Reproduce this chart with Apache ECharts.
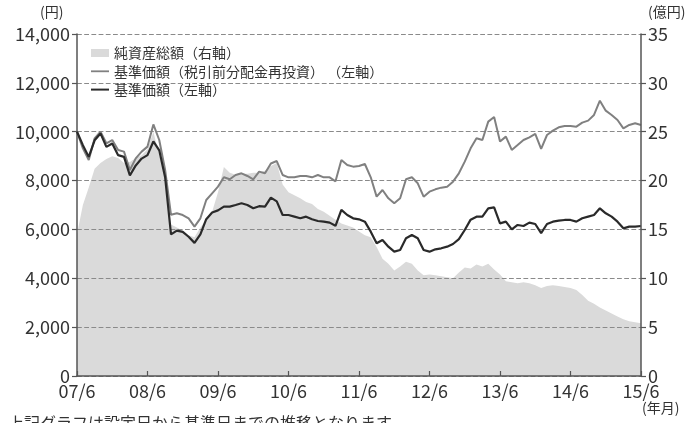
<!DOCTYPE html>
<html>
<head>
<meta charset="utf-8">
<script src="https://cdn.jsdelivr.net/npm/echarts@6/dist/echarts.min.js"></script>
<style>
html,body{margin:0;padding:0;background:#fff;}
#c{width:687px;height:423px;}
</style>
</head>
<body>
<div id="c"></div>
<script>
// x tick labels, one per year (every 12 months from 2007/6)
var tickLabels = ['07/6','08/6','09/6','10/6','11/6','12/6','13/6','14/6','15/6'];

// 基準価額 (円), monthly, 2007/6 .. 2015/6
var nav = [10000,9450,8970,9650,9930,9380,9520,9040,8970,8210,8620,8900,
  9040,9600,9240,8140,5800,5950,5900,5700,5450,5800,6420,6690,
  6780,6933,6933,7000,7069,7000,6864,6950,6933,7300,7150,6591,
  6591,6523,6455,6523,6414,6346,6318,6278,6150,6800,6591,6455,
  6414,6318,5909,5431,5568,5295,5090,5158,5636,5773,5636,5158,
  5090,5185,5227,5295,5404,5600,5977,6400,6523,6523,6864,6900,
  6250,6318,6000,6182,6141,6278,6223,5850,6223,6318,6359,6387,
  6387,6318,6455,6523,6591,6864,6660,6523,6318,6045,6114,6114,
  6141];

// 基準価額（税引前分配金再投資） (円), monthly
var navReinv = [10000,9320,8843,9730,10000,9525,9660,9250,9185,8434,8910,9185,
  9390,10300,9660,8434,6600,6660,6590,6455,6114,6455,7205,7478,
  7751,8133,8052,8229,8297,8188,8052,8365,8297,8700,8800,8229,
  8133,8133,8188,8188,8133,8229,8133,8133,7970,8843,8638,8570,
  8597,8679,8133,7342,7615,7274,7069,7274,8052,8133,7888,7342,
  7547,7642,7710,7751,7956,8297,8775,9320,9730,9660,10412,10600,
  9600,9799,9253,9457,9662,9771,9908,9300,9866,10044,10180,10235,
  10235,10208,10372,10453,10685,11272,10863,10685,10481,10139,10276,10344,
  10276];

// 純資産総額 (億円), monthly
var netAssets = [14.5,17.5,19.3,21.2,21.8,22.2,22.5,22.3,21.8,21.9,22.3,22.6,
  23.2,25.0,22.6,20.6,15.5,15.2,14.9,14.4,14.2,15.2,16.0,16.8,
  18.8,21.4,20.8,20.6,20.7,20.7,20.8,20.8,21.0,21.5,21.8,19.6,
  18.8,18.5,18.2,17.8,17.6,17.1,16.8,16.4,16.0,15.6,15.4,15.2,
  14.8,14.4,14.2,13.2,12.0,11.5,10.8,11.2,11.7,11.5,10.8,10.3,
  10.4,10.3,10.2,10.1,10.0,10.6,11.1,11.0,11.4,11.2,11.5,10.9,
  10.4,9.7,9.6,9.5,9.6,9.5,9.3,9.0,9.2,9.3,9.2,9.1,
  9.0,8.8,8.3,7.7,7.4,7.0,6.7,6.4,6.1,5.8,5.6,5.5,
  5.4];

var leftTicks = [0,2000,4000,6000,8000,10000,12000,14000];
var rightTicks = [0,5,10,15,20,25,30,35];

var names = ['純資産総額（右軸）','基準価額（税引前分配金再投資） （左軸）','基準価額（左軸）'];

function pairs(arr){ return arr.map(function(v,i){ return [i, v]; }); }

var FONT = 'Noto Sans CJK JP';
var chart = echarts.init(document.getElementById('c'), null, {renderer:'canvas'});
chart.setOption({
  animation:false,
  backgroundColor:'#fff',
  textStyle:{fontFamily:FONT},
  grid:{left:77,right:46,top:34,bottom:47},
  legend:{
    zlevel:1,
    left:86, top:41, orient:'vertical', itemGap:4.3, itemWidth:18, itemHeight:8,
    textStyle:{fontSize:14,color:'#333',fontFamily:FONT},
    data:[
      {name:names[0], icon:'rect'},
      {name:names[1], icon:'path://M0,0H18V1.8H0Z'},
      {name:names[2], icon:'path://M0,0H18V2H0Z'}
    ]
  },
  xAxis:{
    type:'value', min:0, max:96, interval:12, zlevel:1, z:6,
    axisLine:{show:true,lineStyle:{color:'#555',width:1.5}},
    axisTick:{show:true,inside:true,length:5,lineStyle:{color:'#555',width:1.2}},
    axisLabel:{fontSize:18,color:'#333',margin:6,fontFamily:FONT,
      formatter:function(v){ return tickLabels[Math.round(v/12)]; }},
    splitLine:{show:false}
  },
  yAxis:[{
    type:'value', min:leftTicks[0], max:leftTicks[leftTicks.length-1], interval:2000, zlevel:1, z:1,
    axisLine:{show:true,lineStyle:{color:'#555',width:1.5}},
    axisTick:{show:true,length:5,lineStyle:{color:'#555',width:1.2}},
    axisLabel:{fontSize:18,color:'#333',margin:7,fontFamily:FONT,
      formatter:function(v){ return v.toLocaleString('en-US'); }},
    splitLine:{show:true,lineStyle:{color:'#8a8a8a',width:1.2,type:'dashed',dashOffset:0}}
  },{
    type:'value', min:rightTicks[0], max:rightTicks[rightTicks.length-1], interval:5, position:'right', zlevel:1, z:6,
    axisLine:{show:true,lineStyle:{color:'#555',width:1.5}},
    axisTick:{show:true,length:5,lineStyle:{color:'#555',width:1.2}},
    axisLabel:{fontSize:18,color:'#333',margin:7,fontFamily:FONT},
    splitLine:{show:false}
  }],
  series:[{
    name:names[0], type:'line', yAxisIndex:1, zlevel:0, z:1, showSymbol:false, symbol:'none',
    data:pairs(netAssets),
    lineStyle:{width:0,color:'#dadada'}, itemStyle:{color:'#dadada'},
    areaStyle:{color:'#dadada',opacity:1}
  },{
    name:names[1], type:'line', yAxisIndex:0, zlevel:1, z:4, showSymbol:false, symbol:'none',
    data:pairs(navReinv),
    lineStyle:{width:2,color:'#808080'}, itemStyle:{color:'#808080'}
  },{
    name:names[2], type:'line', yAxisIndex:0, zlevel:1, z:5, showSymbol:false, symbol:'none',
    data:pairs(nav),
    lineStyle:{width:2.2,color:'#2a2a2a'}, itemStyle:{color:'#2a2a2a'}
  }],
  graphic:[
    {type:'text', zlevel:1, left:40, top:5, style:{text:'(円)', font:'14px "'+FONT+'"', fill:'#333'}},
    {type:'text', zlevel:1, left:648, top:5, style:{text:'(億円)', font:'14px "'+FONT+'"', fill:'#333'}},
    {type:'text', zlevel:1, left:642, top:401, style:{text:'(年月)', font:'14px "'+FONT+'"', fill:'#333'}},
    {type:'text', zlevel:1, left:8, top:415, style:{text:'上記グラフは設定日から基準日までの推移となります。', font:'16px "'+FONT+'"', fill:'#333'}}
  ]
});
</script>
</body>
</html>
